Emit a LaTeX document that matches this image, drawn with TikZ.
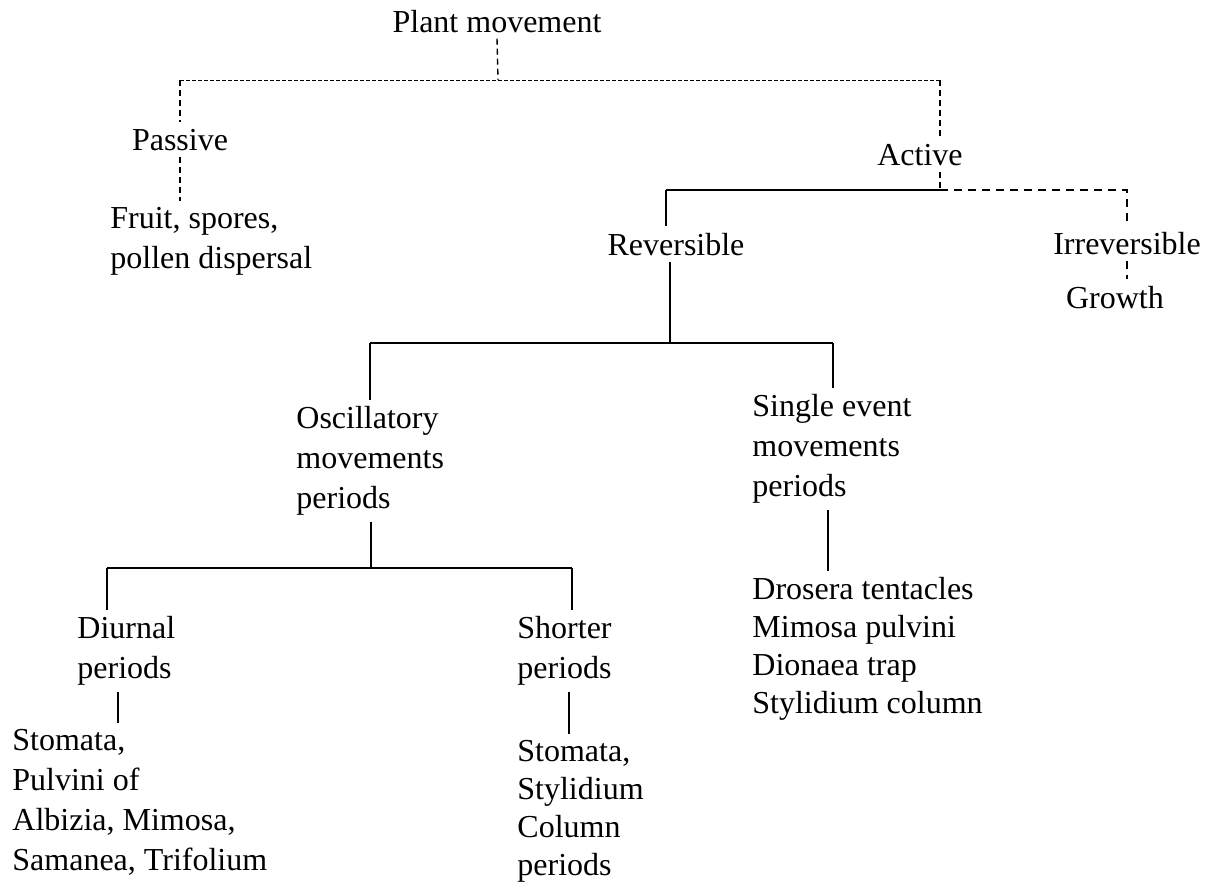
\documentclass[tikz,border=0pt]{standalone}
\usepackage{fontspec}
\setmainfont{Liberation Serif}
\usetikzlibrary{positioning}

\begin{document}
\begin{tikzpicture}[x=0.5pt,y=-0.5pt,
every node/.style={inner xsep=0pt, inner ysep=3pt, align=left,
  font=\fontsize{16}{20}\selectfont},
lbl/.style={anchor=base},
blk/.style={anchor=north west},
tight/.style={font=\fontsize{16}{19}\selectfont},
fine/.style={line width=0.5pt, dash pattern=on 2pt off 1pt},
dsh/.style={line width=0.7pt, dash pattern=on 3pt off 2pt},
dshb/.style={line width=0.8pt, dash pattern=on 4pt off 3pt},
sld/.style={line width=0.8pt}]
\useasboundingbox (0,0) rectangle (1214,884);

\node[lbl] (plant) at (497,32) {Plant movement};
\node[lbl] (passive) at (180,150) {Passive};
\node[blk] (fruit) at (110,201) {Fruit, spores,\\pollen dispersal};
\node[lbl] (active) at (920,165) {Active};
\node[lbl] (rev) at (676,255) {Reversible};
\node[lbl] (irrev) at (1127,254) {Irreversible};
\node[lbl] (growth) at (1115,308) {Growth};
\node[blk] (osc) at (296,400) {Oscillatory\\movements\\periods};
\node[blk] (single) at (752,388) {Single event\\movements\\periods};
\node[blk] (diurnal) at (77,610) {Diurnal\\periods};
\node[blk] (shorter) at (517,610) {Shorter\\periods};
\node[blk] (dlist) at (12,723) {Stomata,\\Pulvini of\\Albizia, Mimosa,\\Samanea, Trifolium};
\node[blk,tight] (slist) at (517,734) {Stomata,\\Stylidium\\Column\\periods};
\node[blk,tight] (elist) at (752,571) {Drosera tentacles\\Mimosa pulvini\\Dionaea trap\\Stylidium column};

\coordinate (pm) at (498,80);
\coordinate (pl) at (180,80);
\coordinate (pr) at (940,80);
\coordinate (ab) at (940,190);
\coordinate (rl) at (666,190);
\coordinate (ir) at (1127,190);
\coordinate (rb) at (670,343);
\coordinate (ol) at (370,343);
\coordinate (sr) at (833,343);
\coordinate (ob) at (371,568);
\coordinate (dl) at (107,568);
\coordinate (shr) at (572,568);
\coordinate (dd) at (118,0);
\coordinate (sd) at (569,0);
\coordinate (ed) at (828,0);

\draw[dsh] (plant.south) -- (pm);
\draw[fine] (pl) -- (pr);
\draw[dsh] (pl) -- (passive.north);
\draw[dsh] (passive.south) -- (passive.south |- fruit.north);
\draw[dsh] (pr) -- (pr |- active.north);
\draw[dsh] (pr |- active.south) -- (ab);
\draw[sld] (rl) -- (ab);
\draw[dshb] (ab) -- (ir) -- (ir |- irrev.north);
\draw[dshb] (ir |- irrev.south) -- (ir |- growth.north);
\draw[sld] (rl) -- (rl |- rev.north);
\draw[sld] (rb |- rev.south) -- (rb);
\draw[sld] (ol) -- (sr);
\draw[sld] (ol) -- (ol |- osc.north);
\draw[sld] (sr) -- (sr |- single.north);
\draw[sld] (ob |- osc.south) -- (ob);
\draw[sld] (dl) -- (shr);
\draw[sld] (dl) -- (dl |- diurnal.north);
\draw[sld] (shr) -- (shr |- shorter.north);
\draw[sld] (dd |- diurnal.south) -- (dd |- dlist.north);
\draw[sld] (sd |- shorter.south) -- (sd |- slist.north);
\draw[sld] (ed |- single.south) -- (ed |- elist.north);
\end{tikzpicture}
\end{document}
